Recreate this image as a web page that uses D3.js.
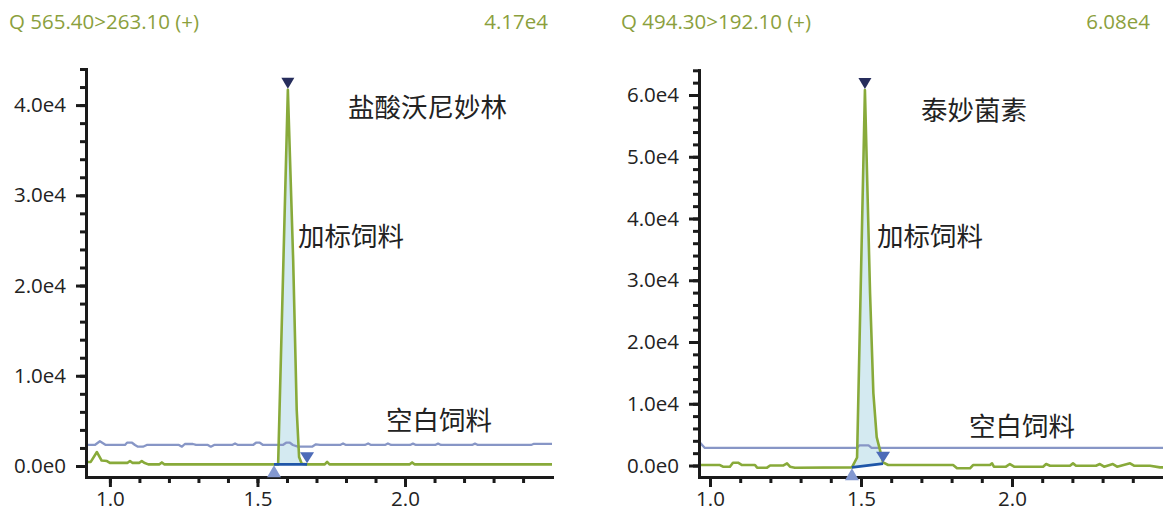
<!DOCTYPE html>
<html>
<head>
<meta charset="utf-8">
<script src="https://cdn.jsdelivr.net/npm/d3@7"></script>
<style>
  body { margin: 0; background: #fff; }
  svg { display: block; }
</style>
</head>
<body>
<svg id="chart" width="1163" height="513"></svg>
<script>
// ---------- Transition 1: Q 565.40>263.10 (+), 盐酸沃尼妙林 ----------
const titleA = "Q 565.40>263.10 (+)";
const compoundA = "盐酸沃尼妙林";
// spiked feed trace: [retention time (min), intensity]
const spikedA = [
  [0.919, 440], [0.935, 450], [0.956, 1550], [0.972, 600], [0.99, 550], [1.0, 350],
  [1.06, 350], [1.068, 550], [1.076, 350], [1.10, 350], [1.108, 550], [1.116, 350],
  [1.13, 180], [1.168, 180], [1.176, 400], [1.184, 180], [1.556, 180], [1.570, 180],
  [1.603, 41700], [1.621, 22800], [1.633, 6200], [1.641, 1000], [1.650, 250],
  [1.668, 180], [1.728, 180], [1.736, 450], [1.744, 180], [2.016, 180], [2.024, 400],
  [2.032, 180], [2.498, 180]
];
// blank feed trace
const blankA = [
  [0.919, 2330], [0.949, 2330], [0.966, 2740], [0.986, 2330], [1.051, 2330], [1.058, 2580],
  [1.075, 2580], [1.085, 2330], [1.095, 2140], [1.112, 2140], [1.125, 2330], [1.234, 2330],
  [1.244, 2140], [1.254, 2440], [1.281, 2440], [1.292, 2330], [1.332, 2330], [1.342, 2140],
  [1.353, 2330], [1.414, 2330], [1.424, 2500], [1.434, 2330], [1.485, 2330], [1.495, 2580],
  [1.508, 2580], [1.519, 2330], [1.586, 2330], [1.597, 2580], [1.610, 2580], [1.620, 2330],
  [1.637, 2140], [1.685, 2140], [1.698, 2400], [1.712, 2330], [1.78, 2330], [1.790, 2500],
  [1.80, 2330], [1.864, 2330], [1.875, 2500], [1.885, 2330], [1.932, 2330], [1.942, 2500],
  [1.953, 2330], [2.017, 2330], [2.027, 2480], [2.037, 2330], [2.102, 2330], [2.112, 2480],
  [2.122, 2330], [2.227, 2330], [2.237, 2480], [2.247, 2330], [2.427, 2330], [2.437, 2460],
  [2.498, 2460]
];
// integration limits and baseline levels of the peak
const peakTimesA = [1.556, 1.668];
const peakBaseA = [180, 180];
const yTicksA = [0, 10000, 20000, 30000, 40000];
const xTicksA = [1.0, 1.5, 2.0];

// ---------- Transition 2: Q 494.30>192.10 (+), 泰妙菌素 ----------
const titleB = "Q 494.30>192.10 (+)";
const compoundB = "泰妙菌素";
const spikedB = [
  [0.9636, 80], [1.033, 80], [1.043, -190], [1.066, -190], [1.076, 450], [1.093, 450],
  [1.106, 80], [1.149, 80], [1.156, -350], [1.189, -350], [1.199, 0], [1.242, 0],
  [1.255, 350], [1.265, -190], [1.281, -350], [1.470, -300], [1.487, 1300],
  [1.513, 60800], [1.530, 27900], [1.541, 11700], [1.552, 4600],
  [1.5685, 1400], [1.573, 500], [1.590, 80], [1.805, 80], [1.818, -450], [1.861, -450],
  [1.871, 80], [1.927, 80], [1.934, 350], [1.940, -190], [1.980, -190], [1.993, 240],
  [2.007, -190], [2.103, -190], [2.113, 240], [2.126, -30], [2.192, -30], [2.202, 350],
  [2.212, -30], [2.278, -30], [2.291, 240], [2.305, -190], [2.334, 240], [2.348, -190],
  [2.391, 350], [2.404, -30], [2.457, -30], [2.490, -300], [2.5, -300]
];
const blankB = [
  [0.9636, 3900], [0.983, 2850], [1.487, 2850], [1.494, 3250], [1.525, 3250],
  [1.535, 2850], [2.5, 2850]
];
const peakTimesB = [1.470, 1.573];
const peakBaseB = [-300, 300];
const yTicksB = [0, 10000, 20000, 30000, 40000, 50000, 60000];
const xTicksB = [1.0, 1.5, 2.0];

const labelSpiked = "加标饲料";
const labelBlank = "空白饲料";

// ---------- styling ----------
const LATIN = "'Open Sans', 'Noto Sans', 'DejaVu Sans', sans-serif";
const CJK = "'Noto Sans CJK SC', 'Noto Sans', sans-serif";
const GREEN = "#88aa3a";
const TITLE_GREEN = "#8b9f3d";
const BLUE_TRACE = "#8796c6";
const FILL = "#d4eaf1";

const svg = d3.select("#chart");
svg.append("rect").attr("width", 1163).attr("height", 513).attr("fill", "#fff");

const panels = [
  {
    id: "a", title: titleA, compound: compoundA, spiked: spikedA, blank: blankA,
    peakTimes: peakTimesA, peakBase: peakBaseA, yTicks: yTicksA, xTicks: xTicksA,
    xDomain: [0.919, 2.498], xRange: [86, 552],
    yDomain: [-1220, 44000], yRange: [477, 69],
    titleX: 9, maxX: 548,
    compoundPos: [348, 108], spikedPos: [298, 237], blankPos: [386, 421]
  },
  {
    id: "b", title: titleB, compound: compoundB, spiked: spikedB, blank: blankB,
    peakTimes: peakTimesB, peakBase: peakBaseB, yTicks: yTicksB, xTicks: xTicksB,
    xDomain: [0.9636, 2.5], xRange: [699, 1163],
    yDomain: [-1860, 64000], yRange: [477, 70.3],
    titleX: 621, maxX: 1150,
    compoundPos: [921, 111], spikedPos: [877, 237], blankPos: [969, 427]
  }
];

function fmtY(v) {
  return v === 0 ? "0.0e0" : (v / 1e4).toFixed(1) + "e4";
}

panels.forEach(p => {
  const x = d3.scaleLinear().domain(p.xDomain).range(p.xRange);
  const y = d3.scaleLinear().domain(p.yDomain).range(p.yRange);
  const g = svg.append("g");

  // clip to the plotting area
  const clipId = "clip-" + p.id;
  svg.append("defs").append("clipPath").attr("id", clipId)
    .append("rect")
    .attr("x", p.xRange[0]).attr("y", p.yRange[1])
    .attr("width", p.xRange[1] - p.xRange[0])
    .attr("height", p.yRange[0] - p.yRange[1]);
  const plot = g.append("g").attr("clip-path", `url(#${clipId})`);

  // header: transition and apex intensity
  const apex = p.spiked.reduce((a, b) => (b[1] > a[1] ? b : a));
  g.append("text").attr("x", p.titleX).attr("y", 29)
    .attr("font-family", LATIN).attr("font-size", 20.5).attr("fill", TITLE_GREEN)
    .text(p.title);
  g.append("text").attr("x", p.maxX).attr("y", 29).attr("text-anchor", "end")
    .attr("font-family", LATIN).attr("font-size", 20.5).attr("fill", TITLE_GREEN)
    .text((apex[1] / 1e4).toFixed(2) + "e4");

  // integrated peak area
  const [t0, t1] = p.peakTimes;
  const [b0, b1] = p.peakBase;
  const baseAt = t => b0 + (b1 - b0) * (t - t0) / (t1 - t0);
  const peakPts = p.spiked.filter(d => d[0] >= t0 && d[0] <= t1);
  plot.append("path")
    .datum(peakPts)
    .attr("fill", FILL)
    .attr("d", d3.area()
      .x(d => x(d[0]))
      .y0(d => y(baseAt(d[0])))
      .y1(d => y(Math.max(d[1], baseAt(d[0])))));

  const line = d3.line().x(d => x(d[0])).y(d => y(d[1]));

  // blank feed trace
  plot.append("path").datum(p.blank)
    .attr("fill", "none").attr("stroke", BLUE_TRACE).attr("stroke-width", 2.3)
    .attr("stroke-linejoin", "round").attr("d", line);

  // spiked feed trace
  plot.append("path").datum(p.spiked)
    .attr("fill", "none").attr("stroke", GREEN).attr("stroke-width", 2.6)
    .attr("stroke-linejoin", "round").attr("d", line);

  // integration baseline
  g.append("line")
    .attr("x1", x(t0)).attr("y1", y(b0))
    .attr("x2", x(t1)).attr("y2", y(b1))
    .attr("stroke", "#1f56a8").attr("stroke-width", 2.8);

  // y axis: major and minor ticks
  const yMinor = d3.range(0, p.yDomain[1] + 1, 2000);
  const yMinorAxis = g.append("g").attr("transform", `translate(${p.xRange[0]},0)`)
    .call(d3.axisLeft(y).tickValues(yMinor).tickSize(6).tickSizeOuter(0).tickFormat(""));
  const yAxis = g.append("g").attr("transform", `translate(${p.xRange[0]},0)`)
    .call(d3.axisLeft(y).tickValues(p.yTicks).tickSize(10).tickSizeOuter(0)
      .tickPadding(10).tickFormat(fmtY));

  // x axis: major and minor ticks
  const xMinor = d3.range(10, 25).map(k => k / 10);
  const xMinorAxis = g.append("g").attr("transform", `translate(0,${p.yRange[0]})`)
    .call(d3.axisBottom(x).tickValues(xMinor).tickSize(6).tickSizeOuter(0).tickFormat(""));
  const xAxis = g.append("g").attr("transform", `translate(0,${p.yRange[0]})`)
    .call(d3.axisBottom(x).tickValues(p.xTicks).tickSize(10).tickSizeOuter(0)
      .tickPadding(4).tickFormat(d3.format(".1f")));

  [yMinorAxis, yAxis, xMinorAxis, xAxis].forEach(a => {
    a.selectAll(".domain").attr("stroke", "#1a1a1a").attr("stroke-width", 3)
      .attr("stroke-linecap", "square");
    a.selectAll(".tick line").attr("stroke", "#1a1a1a").attr("stroke-width", 3);
    a.selectAll("text").attr("font-family", LATIN).attr("font-size", 20.5).attr("fill", "#222");
  });

  // markers drawn over the axes: apex, peak start, peak end
  const tri = (cx, tipY, w, h, down) => down
    ? `M${cx - w / 2},${tipY - h}L${cx + w / 2},${tipY - h}L${cx},${tipY}Z`
    : `M${cx - w / 2},${tipY + h}L${cx + w / 2},${tipY + h}L${cx},${tipY}Z`;
  g.append("path").attr("fill", "#262d5c")
    .attr("d", tri(x(apex[0]), y(apex[1]) - 1, 13, 11, true));
  g.append("path").attr("fill", "#8398d0")
    .attr("d", tri(x(t0), y(b0) + 1, 14, 12, false));
  g.append("path").attr("fill", "#4d6bb8")
    .attr("d", tri(x(t1), y(b1) - 1, 14, 11, true));

  // trace annotations
  const note = (pos, txt) => g.append("text")
    .attr("x", pos[0]).attr("y", pos[1]).attr("dy", "0.35em")
    .attr("font-family", CJK).attr("font-size", 26.5).attr("fill", "#222")
    .text(txt);
  note(p.compoundPos, p.compound);
  note(p.spikedPos, labelSpiked);
  note(p.blankPos, labelBlank);
});
</script>
</body>
</html>
